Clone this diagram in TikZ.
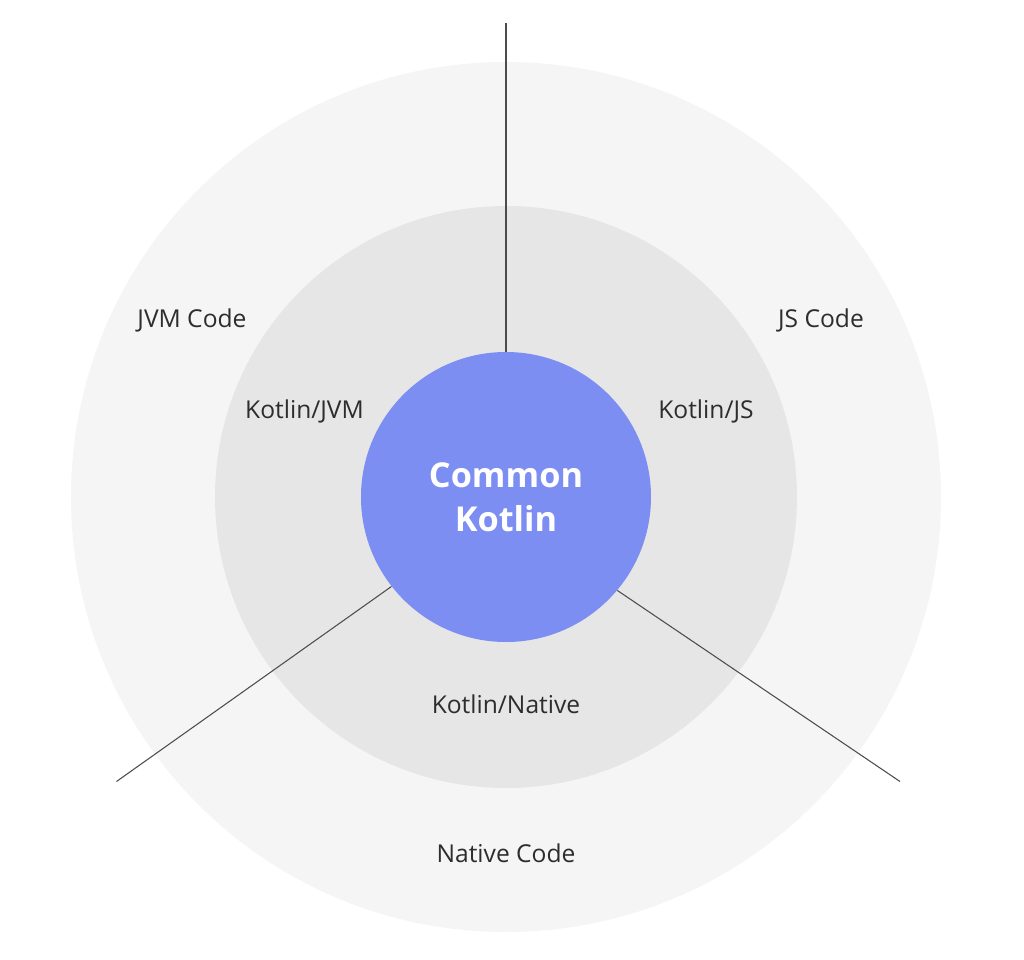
\documentclass[tikz,border=0pt]{standalone}
\usepackage{fontspec}
\setmainfont{Open Sans}
\definecolor{outerring}{RGB}{245,245,245}
\definecolor{middlering}{RGB}{230,230,230}
\definecolor{kotlinblue}{RGB}{124,142,242}
\definecolor{labelgray}{RGB}{45,45,45}
\begin{document}
\begin{tikzpicture}[
  ringtext/.style={font=\fontsize{14}{17}\selectfont, text=labelgray},
  divider/.style={line width=0.6pt, draw=black!70}]
 \useasboundingbox[fill=white] (-10.12,-9.24) rectangle (10.36,9.94);
 \fill[outerring] (0,0) circle (8.7);
 \fill[middlering] (0,0) circle (5.82);
 % dividers
 \coordinate (topend) at (0,9.48);
 \coordinate (leftend) at (-7.79,-5.69);
 \coordinate (rightend) at (7.88,-5.69);
 \node[circle, fill=kotlinblue, minimum size=5.8cm, inner sep=0pt, text=white,
   font=\fontsize{19.5}{25}\selectfont\bfseries, align=center] (common) at (0,0) {Common\\Kotlin};
 \draw[divider] (common.90) -- (topend);
 \draw[divider] (common.218) -- (leftend);
 \draw[divider] (common.320) -- (rightend);
 % labels
 \node[ringtext] (jvmcode) at (-6.28,3.54) {JVM Code};
 \node[ringtext] (jscode) at (6.3,3.54) {JS Code};
 \node[ringtext] (nativecode) at (0,-7.12) {Native Code};
 \node[ringtext] (kjvm) at (-4.03,1.72) {Kotlin/JVM};
 \node[ringtext] (kjs) at (4.0,1.72) {Kotlin/JS};
 \node[ringtext] (knative) at (0,-4.14) {Kotlin/Native};
\end{tikzpicture}
\end{document}
